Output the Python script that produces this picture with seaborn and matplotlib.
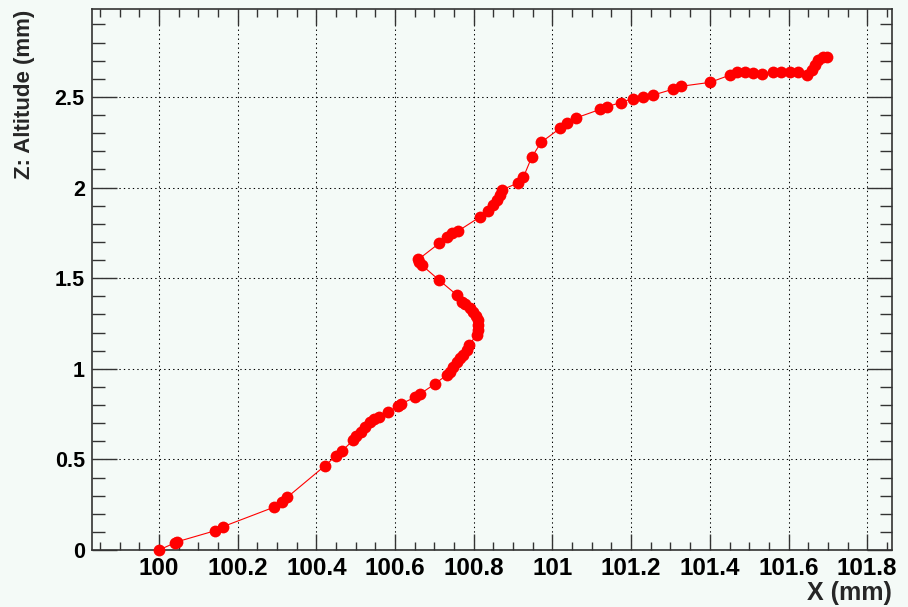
import matplotlib
matplotlib.use("Agg")
import matplotlib.pyplot as plt
from matplotlib.ticker import MultipleLocator, FixedLocator
import seaborn as sns
import pandas as pd

x_mm = [100.000, 100.041, 100.047, 100.142, 100.163, 100.292, 100.312, 100.326,
        100.422, 100.449, 100.464, 100.494, 100.502, 100.513, 100.524, 100.536,
        100.546, 100.560, 100.581, 100.608, 100.614, 100.650, 100.663, 100.701,
        100.731, 100.740, 100.748, 100.757, 100.765, 100.773, 100.782, 100.788,
        100.807, 100.811, 100.811, 100.810, 100.806, 100.799, 100.790, 100.778,
        100.769, 100.757, 100.712, 100.668, 100.662, 100.659, 100.712, 100.731,
        100.744, 100.761, 100.816, 100.837, 100.850, 100.858, 100.867, 100.871,
        100.913, 100.926, 100.947, 100.971, 101.019, 101.038, 101.060, 101.121,
        101.138, 101.173, 101.205, 101.231, 101.256, 101.307, 101.328, 101.400,
        101.451, 101.468, 101.489, 101.510, 101.532, 101.561, 101.582, 101.604,
        101.625, 101.646, 101.659, 101.667, 101.676, 101.688, 101.697]
z_mm = [0.000, 0.040, 0.046, 0.106, 0.129, 0.236, 0.263, 0.291,
        0.465, 0.518, 0.544, 0.607, 0.629, 0.653, 0.680, 0.704,
        0.723, 0.735, 0.760, 0.794, 0.805, 0.842, 0.860, 0.916,
        0.965, 0.983, 1.011, 1.039, 1.057, 1.076, 1.103, 1.131,
        1.186, 1.213, 1.241, 1.269, 1.291, 1.314, 1.333, 1.357,
        1.370, 1.407, 1.489, 1.572, 1.590, 1.603, 1.692, 1.728,
        1.747, 1.761, 1.838, 1.871, 1.903, 1.931, 1.958, 1.986,
        2.026, 2.056, 2.166, 2.249, 2.326, 2.354, 2.384, 2.431,
        2.445, 2.469, 2.491, 2.497, 2.510, 2.543, 2.559, 2.580,
        2.620, 2.635, 2.638, 2.633, 2.629, 2.635, 2.638, 2.638,
        2.635, 2.620, 2.648, 2.675, 2.704, 2.718, 2.721]

x_ticks = [100.0, 100.2, 100.4, 100.6, 100.8, 101.0, 101.2, 101.4, 101.6, 101.8]
x_tick_labels = ["100", "100.2", "100.4", "100.6", "100.8", "101", "101.2", "101.4", "101.6", "101.8"]
y_ticks = [0, 0.5, 1.0, 1.5, 2.0, 2.5]
y_tick_labels = ["0", "0.5", "1", "1.5", "2", "2.5"]

df = pd.DataFrame({"x": x_mm, "z": z_mm})

sns.set_style("ticks")
plt.rcParams["font.family"] = ["Liberation Sans", "DejaVu Sans"]
plt.rcParams["font.weight"] = "bold"

bg = "#f4faf7"
fig = plt.figure(figsize=(9.08, 6.07), dpi=100, facecolor=bg)
ax = fig.add_axes([91.7 / 908, (607 - 550) / 607, (892 - 91.7) / 908, (550 - 9) / 607])
ax.set_facecolor(bg)

sns.lineplot(data=df, x="x", y="z", sort=False, estimator=None, ax=ax,
             color="#ff0000", linewidth=0.8, marker="o", markersize=8.5,
             markeredgewidth=0, markerfacecolor="#ff0000", clip_on=False, zorder=5)

ax.set_xlim(99.829, 101.863)
ax.set_ylim(0, 2.985)

ax.xaxis.set_major_locator(FixedLocator(x_ticks))
ax.set_xticklabels(x_tick_labels)
ax.yaxis.set_major_locator(FixedLocator(y_ticks))
ax.set_yticklabels(y_tick_labels)
ax.xaxis.set_minor_locator(MultipleLocator(0.05))
ax.yaxis.set_minor_locator(MultipleLocator(0.1))

frame_col = "#333333"
for s in ax.spines.values():
    s.set_color(frame_col)
    s.set_linewidth(1.2)
    s.set_visible(True)

ax.tick_params(axis="x", which="major", direction="in", length=11.5, width=1.0,
               color=frame_col, top=True, bottom=True, labelsize=17.5, pad=5)
ax.tick_params(axis="x", which="minor", direction="in", length=5.8, width=1.0,
               color=frame_col, top=True, bottom=True)
ax.tick_params(axis="y", which="major", direction="in", length=18, width=1.0,
               color=frame_col, left=True, right=True, labelsize=15.5, pad=5)
ax.tick_params(axis="y", which="minor", direction="in", length=9, width=1.0,
               color=frame_col, left=True, right=True)
for lbl in ax.get_xticklabels() + ax.get_yticklabels():
    lbl.set_fontweight("bold")
    lbl.set_color("black")

ax.grid(True, which="major", color="black", linewidth=0.75, linestyle=(0, (1.3, 3.0)))
ax.set_axisbelow(True)

ax.set_xlabel("")
ax.set_ylabel("")
fig.text(892 / 908, (607 - 600) / 607, "X (mm)", ha="right", va="baseline",
         fontsize=18, fontweight="bold")
fig.text(25 / 908, 1 - 10 / 607, "Z: Altitude (mm)", ha="center", va="top",
         rotation=90, fontsize=16, fontweight="bold")

fig.savefig("out.png", dpi=100, facecolor=bg)
